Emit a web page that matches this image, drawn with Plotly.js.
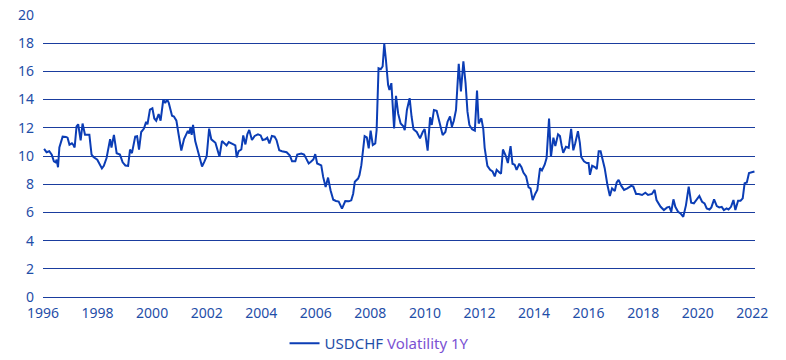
<!DOCTYPE html>
<html>
<head>
<meta charset="utf-8">
<script src="https://cdn.plot.ly/plotly-3.0.1.min.js"></script>
<style>html,body{margin:0;padding:0;background:#fff;}#chart{width:786px;height:360px;}</style>
</head>
<body>
<div id="chart"></div>
<script>
const seriesName = "USDCHF";
const seriesSubtitle = "Volatility 1Y";
const dates = [
1996.04,1996.13,1996.23,1996.32,1996.40,1996.46,1996.50,1996.55,1996.60,1996.72,1996.84,1996.90,1996.97,
1997.06,1997.11,1997.16,1997.23,1997.29,1997.38,1997.45,1997.54,1997.70,1997.78,1997.85,1997.99,
1998.08,1998.16,1998.23,1998.33,1998.46,1998.51,1998.60,1998.70,1998.82,1998.92,
1999.02,1999.12,1999.19,1999.26,1999.38,1999.45,1999.52,1999.60,1999.70,1999.78,1999.83,1999.92,
2000.01,2000.08,2000.15,2000.24,2000.31,2000.41,2000.48,2000.55,2000.61,2000.73,2000.80,2000.89,2000.97,
2001.07,2001.17,2001.31,2001.36,2001.41,2001.45,2001.50,2001.58,2001.67,2001.75,2001.83,2001.92,
2002.00,2002.09,2002.17,2002.32,2002.39,2002.47,2002.56,2002.63,2002.73,2002.81,2002.88,2002.98,
2003.05,2003.10,2003.17,2003.27,2003.34,2003.42,2003.49,2003.56,2003.66,2003.76,2003.88,2003.98,
2004.05,2004.15,2004.22,2004.30,2004.39,2004.49,2004.56,2004.66,2004.76,2004.93,
2005.05,2005.13,2005.25,2005.32,2005.47,2005.57,2005.64,2005.74,2005.82,2005.91,2005.98,
2006.05,2006.20,2006.27,2006.36,2006.45,2006.54,2006.64,2006.74,2006.84,2006.96,
2007.08,2007.21,2007.30,2007.37,2007.43,2007.55,2007.60,2007.67,2007.74,2007.79,2007.87,2007.94,
2008.01,2008.09,2008.18,2008.23,2008.30,2008.38,2008.45,2008.51,2008.57,2008.65,2008.70,2008.77,2008.87,2008.94,
2009.02,2009.11,2009.21,2009.26,2009.34,2009.44,2009.51,2009.58,2009.70,2009.82,2009.92,2009.99,
2010.10,2010.19,2010.25,2010.33,2010.43,2010.53,2010.65,2010.75,2010.83,2010.92,2010.99,
2011.06,2011.14,2011.24,2011.32,2011.41,2011.49,2011.56,2011.63,2011.73,2011.83,2011.91,2011.97,
2012.07,2012.14,2012.19,2012.29,2012.39,2012.48,2012.56,2012.63,2012.73,2012.79,2012.86,2012.96,
2013.04,2013.14,2013.21,2013.29,2013.36,2013.46,2013.54,2013.61,2013.71,2013.80,2013.87,2013.95,
2014.05,2014.12,2014.22,2014.29,2014.39,2014.46,2014.55,2014.62,2014.71,2014.78,2014.88,2014.95,
2015.01,2015.07,2015.17,2015.27,2015.36,2015.44,2015.51,2015.61,2015.68,2015.73,2015.83,2015.93,
2016.00,2016.05,2016.13,2016.23,2016.30,2016.37,2016.44,2016.52,2016.59,2016.69,2016.78,2016.86,2016.96,
2017.03,2017.10,2017.20,2017.30,2017.42,2017.56,2017.64,2017.74,2017.84,2017.96,
2018.08,2018.18,2018.32,2018.42,2018.49,2018.56,2018.64,2018.76,2018.88,2018.96,
2019.03,2019.11,2019.18,2019.28,2019.37,2019.47,2019.57,2019.67,2019.76,2019.86,2019.96,
2020.06,2020.16,2020.25,2020.33,2020.43,2020.50,2020.60,2020.70,2020.79,2020.88,2020.96,
2021.06,2021.13,2021.22,2021.31,2021.38,2021.48,2021.57,2021.65,2021.72,2021.80,2021.88,2021.98,2022.08
];
const volatility = [
10.5,10.27,10.34,10.1,9.62,9.55,9.74,9.2,10.6,11.37,11.35,11.3,10.8,
10.9,10.8,10.6,12.1,12.25,11.1,12.3,11.5,11.5,10.1,9.93,9.74,
9.38,9.12,9.3,9.86,11.2,10.6,11.5,10.2,10.1,9.55,
9.33,9.3,10.46,10.2,11.37,11.4,10.46,11.7,11.94,12.42,12.25,13.28,
13.38,12.66,12.5,12.97,12.5,14.0,13.76,14.0,13.76,12.85,12.8,12.5,11.54,
10.39,11.2,11.78,11.6,12.05,11.5,12.2,11.06,10.46,9.86,9.26,9.62,
9.98,11.94,11.18,10.94,10.4,9.95,11.06,10.94,10.75,10.99,10.94,10.82,
10.75,9.9,10.34,10.46,11.46,10.82,11.54,11.85,11.13,11.42,11.54,11.46,
11.13,11.18,11.3,10.89,11.42,11.37,11.13,10.41,10.34,10.27,
10.03,9.62,9.62,10.1,10.17,10.1,9.85,9.47,9.59,9.75,10.13,
9.47,9.33,8.52,7.81,8.47,7.57,6.9,6.81,6.77,6.27,
6.81,6.79,6.86,7.33,8.17,8.4,8.64,9.35,10.77,11.41,11.32,10.54,
11.79,10.77,10.89,11.84,16.22,16.15,16.34,17.95,16.82,15.04,14.68,15.16,11.96,14.26,
13.0,12.3,12.1,11.84,13.26,14.1,12.8,11.9,11.7,11.25,11.7,11.9,
10.38,12.74,12.2,13.26,13.2,12.5,11.48,11.7,12.43,12.8,12.07,
12.5,13.26,16.53,14.57,16.7,15.16,13.14,12.2,11.9,11.8,14.64,12.3,
12.67,11.9,10.58,9.3,9.02,8.9,8.55,9.02,8.83,8.74,10.46,10.03,
9.5,10.7,9.45,9.38,9.02,9.45,9.2,8.83,8.55,7.78,7.7,6.87,
7.35,7.6,9.14,8.98,9.38,9.86,12.66,9.93,11.3,10.7,11.54,11.42,
10.75,10.22,10.65,10.58,11.93,10.4,10.9,11.76,10.93,9.93,9.62,9.5,
9.5,8.67,9.31,9.21,9.07,10.33,10.33,9.79,9.14,7.95,7.17,7.71,7.52,
8.12,8.31,7.88,7.6,7.71,7.88,7.83,7.31,7.31,7.24,
7.4,7.24,7.31,7.6,6.88,6.69,6.4,6.17,6.36,6.4,
6.05,6.93,6.4,6.05,5.93,5.69,6.52,7.83,6.69,6.64,6.88,
7.17,6.76,6.64,6.29,6.21,6.36,6.93,6.45,6.36,6.4,6.17,
6.29,6.21,6.4,6.88,6.17,6.83,6.83,7.0,8.07,8.12,8.79,8.83,8.9
];
const xTickVals = [1996,1998,2000,2002,2004,2006,2008,2010,2012,2014,2016,2018,2020,2022];
const xTickText = ["1996","1998","2000","2002","2004","2006","2008","2010","2012","2014","2016","2018","2020","2022"];
const yTickVals = [0,2,4,6,8,10,12,14,16,18,20];

const trace = {
  x: dates, y: volatility, type: "scatter", mode: "lines",
  name: seriesName + " <span style='color:#7b52d3'>" + seriesSubtitle + "</span>",
  line: {color: "#0b3db5", width: 2}
};
const layout = {
  width: 786, height: 360,
  margin: {l: 43, r: 31, t: 14, b: 62},
  paper_bgcolor: "#ffffff", plot_bgcolor: "#ffffff",
  font: {family: "Noto Sans, Open Sans, sans-serif", size: 14, color: "#1f4ea8"},
  xaxis: {
    range: [1996, 2022.1], tickvals: xTickVals, ticktext: xTickText,
    showgrid: false, zeroline: false, showline: false, ticks: "", ticklabelstandoff: 5,
    tickfont: {size: 14, color: "#1f4ea8"}, automargin: false
  },
  yaxis: {
    range: [-0.06, 20.06], tickvals: yTickVals, showgrid: true, gridcolor: "#1a3d9e", gridwidth: 1,
    zeroline: true, zerolinecolor: "#1a3d9e", zerolinewidth: 1,
    showline: false, ticks: "", ticklabelstandoff: 8,
    tickfont: {size: 14, color: "#1f4ea8"}, automargin: false
  },
  showlegend: true,
  legend: {orientation: "h", x: 0.362, xref: "container", xanchor: "left",
    y: 0.0, yref: "container", yanchor: "bottom",
    font: {size: 15, color: "#1f4ea8"}, bgcolor: "rgba(0,0,0,0)"}
};
Plotly.newPlot("chart", [trace], layout, {displayModeBar: false, staticPlot: true});
</script>
</body>
</html>
